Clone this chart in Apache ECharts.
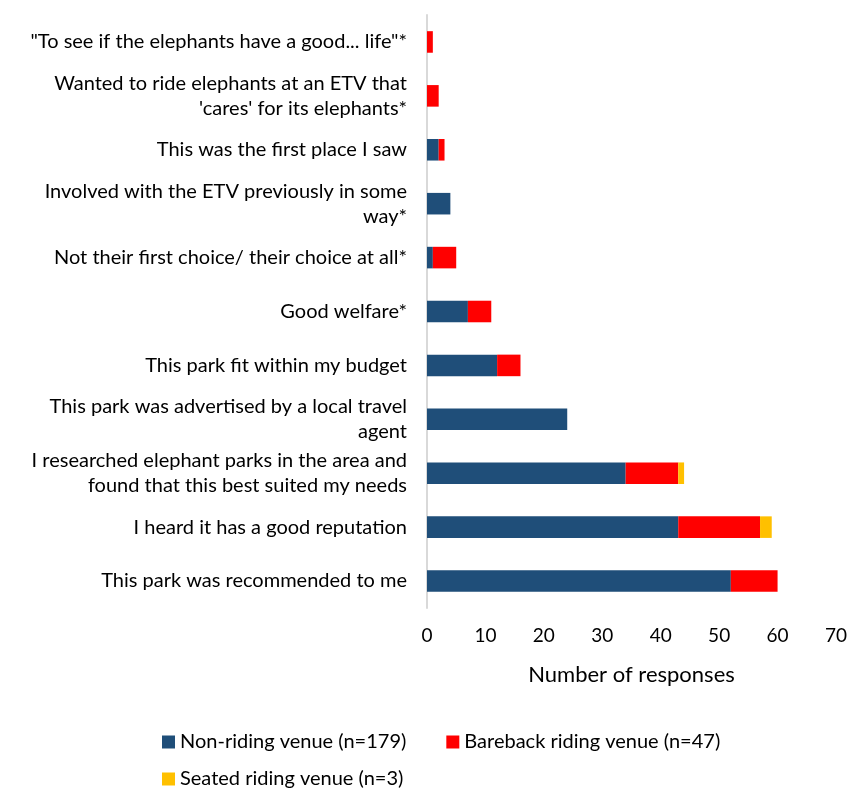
<!DOCTYPE html>
<html lang="en">
<head>
    <meta charset="UTF-8">
    <title>reasons</title>
</head>
<body style="margin:0">
<div id="chart" style="width: 851px;height: 789px"></div>
<script src="https://cdn.jsdelivr.net/npm/echarts@6/dist/echarts.min.js"></script>
<script>
    // categories, top to bottom
    const reasons = [
        '"To see if the elephants have a good... life"*',
        "Wanted to ride elephants at an ETV that\n'cares' for its elephants*",
        'This was the first place I saw',
        'Involved with the ETV previously in some\nway*',
        'Not their first choice/ their choice at all*',
        'Good welfare*',
        'This park fit within my budget',
        'This park was advertised by a local travel\nagent',
        'I researched elephant parks in the area and\nfound that this best suited my needs',
        'I heard it has a good reputation',
        'This park was recommended to me'
    ]
    const nonRiding = [0, 0, 2, 4, 1, 7, 12, 24, 34, 43, 52]
    const bareback = [1, 2, 1, 0, 4, 4, 4, 0, 9, 14, 8]
    const seated = [0, 0, 0, 0, 0, 0, 0, 0, 1, 2, 0]
    const xTicks = [0, 10, 20, 30, 40, 50, 60, 70]

    const font = 'Lato'
    const chart = echarts.init(document.getElementById('chart'))
    const bar = (name, data, color) => ({
        name: name,
        type: 'bar',
        stack: 'all',
        barWidth: '40%',
        data: data,
        itemStyle: {color: color},
        emphasis: {disabled: true}
    })
    chart.setOption({
        animation: false,
        textStyle: {fontFamily: font},
        grid: {left: 427, right: 15, top: 15, bottom: 181, containLabel: false},
        xAxis: {
            type: 'value',
            min: xTicks[0],
            max: xTicks[xTicks.length - 1],
            interval: 10,
            splitLine: {show: false},
            axisLine: {show: false},
            axisTick: {show: false},
            axisLabel: {color: '#000', fontSize: 19, margin: 18, fontFamily: font},
            name: 'Number of responses',
            nameLocation: 'middle',
            nameGap: 56,
            nameTextStyle: {color: '#000', fontSize: 22, fontFamily: font}
        },
        yAxis: {
            type: 'category',
            inverse: true,
            data: reasons,
            axisLine: {show: true, lineStyle: {color: '#d9d9d9', width: 2}},
            axisTick: {show: false},
            axisLabel: {color: '#000', fontSize: 20, margin: 20, lineHeight: 25, fontFamily: font, align: 'right'}
        },
        legend: [
            {
                data: ['Non-riding venue (n=179)', 'Bareback riding venue (n=47)'],
                left: 157, top: 727,
                itemWidth: 13, itemHeight: 13, itemGap: 40,
                icon: 'rect',
                textStyle: {fontSize: 20, color: '#000', fontFamily: font}
            },
            {
                data: ['Seated riding venue (n=3)'],
                left: 157, top: 764,
                itemWidth: 13, itemHeight: 13,
                icon: 'rect',
                textStyle: {fontSize: 20, color: '#000', fontFamily: font}
            }
        ],
        series: [
            bar('Non-riding venue (n=179)', nonRiding, '#1f4e79'),
            bar('Bareback riding venue (n=47)', bareback, '#ff0000'),
            bar('Seated riding venue (n=3)', seated, '#ffc000')
        ]
    })
</script>
</body>
</html>
